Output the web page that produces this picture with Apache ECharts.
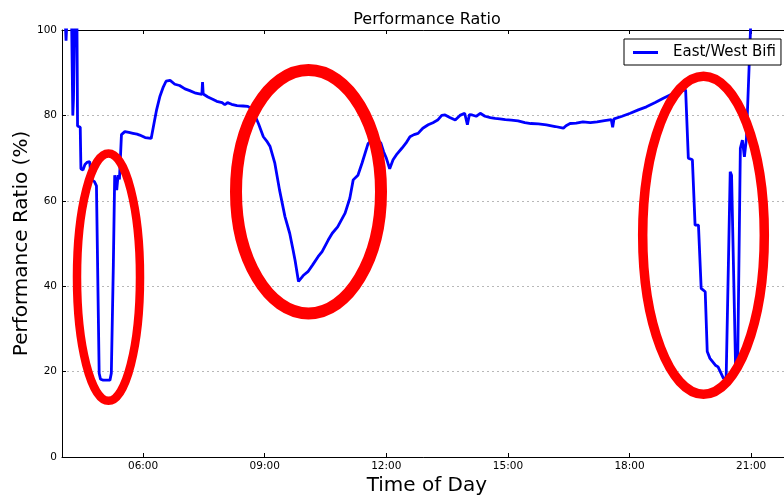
<!DOCTYPE html>
<html>
<head>
<meta charset="utf-8">
<script src="https://cdn.jsdelivr.net/npm/echarts@6/dist/echarts.min.js"></script>
<style>html,body{margin:0;padding:0;background:#fff;overflow:hidden}#c{width:784px;height:499px}</style>
</head>
<body>
<div id="c"></div>
<script>
var titleText = "Performance Ratio";
var xName = "Time of Day";
var yName = "Performance Ratio (%)";
var seriesName = "East/West Bifi";
var xTickHours = [6, 9, 12, 15, 18, 21];
var yTicks = [0, 20, 40, 60, 80, 100];

var times = ["04:04","04:06","04:08","04:14","04:16","04:17","04:19","04:22","04:23","04:27",
"04:28","04:31","04:34","04:37","04:41","04:43","04:48","04:51","04:55","04:57",
"05:01","05:11","05:13","05:16","05:18","05:21","05:23","05:25","05:28","05:33",
"05:39","05:45","05:51","05:55","06:03","06:12","06:16","06:20","06:25","06:30",
"06:34","06:40","06:47","06:54","07:02","07:09","07:18","07:27","07:28","07:29",
"07:36","07:43","07:49","07:57","08:01","08:05","08:11","08:19","08:28","08:35",
"08:41","08:45","08:51","08:58","09:03","09:08","09:15","09:22","09:30","09:37",
"09:42","09:45","09:50","09:57","10:04","10:11","10:19","10:25","10:34","10:40",
"10:48","10:59","11:06","11:11","11:18","11:24","11:33","11:39","11:45","11:52",
"11:56","12:00","12:05","12:10","12:16","12:23","12:29","12:35","12:41","12:47",
"12:54","13:02","13:09","13:16","13:22","13:27","13:34","13:42","13:49","13:56",
"14:00","14:03","14:07","14:13","14:19","14:26","14:34","14:41","14:48","14:56",
"15:05","15:15","15:25","15:34","15:45","15:57","16:10","16:22","16:26","16:32",
"16:41","16:51","17:02","17:12","17:23","17:33","17:35","17:37","17:49","18:01",
"18:13","18:25","18:38","18:50","19:00","19:11","19:20","19:23","19:27","19:33",
"19:37","19:42","19:46","19:52","19:55","19:59","20:07","20:11","20:19","20:23",
"20:29","20:31","20:37","20:40","20:44","20:47","20:50","20:53","20:59","21:02"];

var ratio = [105,97.5,105,105,80,84,105,105,77.5,77.2,
67.5,67.2,68.5,69,69.2,65,64.5,63.5,19.6,18.2,
18,18,19.6,45,66,62.5,66,65,75.5,76.2,
76,75.8,75.6,75.4,74.8,74.6,78,81.3,84.5,86.7,
88,88.2,87.3,87,86.2,85.8,85.2,84.9,87.8,85,
84.3,83.8,83.3,83,82.5,83,82.6,82.3,82.2,82.1,
81.5,80.2,78,75,74,72.7,68.8,62.5,56.3,52.4,
48.5,46,41.1,42.5,43.4,45,46.9,48.1,50.8,52.4,
53.9,57.1,60.6,64.9,66,68.8,73.4,74.2,74.5,73.5,
71.5,70,67.5,69.6,71,72.3,73.5,75,75.5,75.8,
77,77.8,78.3,78.9,80,80.1,79.5,78.9,80,80.5,
77.8,80.2,80.1,79.8,80.5,79.8,79.5,79.3,79.2,79,
78.9,78.7,78.3,78.1,78,77.8,77.4,77,77.6,78.1,
78.2,78.5,78.3,78.5,78.8,79,77.2,79.2,79.8,80.5,
81.3,82,83,84,84.8,85.3,85.9,86,70,69.6,
54.3,54.3,39.5,38.7,24.7,23.1,21.5,21.1,18.4,18.5,
66.8,66,20.8,21.5,72.3,74.2,70.3,74.6,100,110];

function toHours(t){ var p = t.split(":"); return +p[0] + (+p[1]) / 60; }
var data = times.map(function(t, i){ return [toHours(t), ratio[i]]; });
function fmtHour(v){ var h = Math.round(v); return (h < 10 ? "0" : "") + h + ":00"; }

var FONT = "DejaVu Sans";
var chart = echarts.init(document.getElementById("c"), null, {renderer: "canvas"});
var gridLeft = 62, gridTop = 30, gridW = 729.7, gridH = 427;

chart.setOption({
  animation: false,
  backgroundColor: "#fff",
  textStyle: {fontFamily: FONT},
  title: {
    text: titleText, left: 427, top: 12, padding: 0, textAlign: "center",
    textStyle: {fontFamily: FONT, fontSize: 16, fontWeight: "normal", color: "#000"}
  },
  legend: {
    data: [{name: seriesName, icon: "rect"}],
    left: 624, top: 39, padding: [6, 5, 5, 9],
    itemWidth: 25, itemHeight: 3, itemGap: 0,
    borderColor: "#000", borderWidth: 1, backgroundColor: "#fff",
    textStyle: {fontFamily: FONT, fontSize: 15, color: "#000", padding: [0, 0, 0, 10]}
  },
  grid: {left: gridLeft, top: gridTop, width: gridW, height: gridH, containLabel: false, outerBoundsMode: "none"},
  xAxis: [{
    type: "value", min: 4, max: 22,
    name: xName, nameLocation: "middle", nameGap: 19, nameMoveOverlap: false,
    nameTextStyle: {fontFamily: FONT, fontSize: 20, color: "#000"},
    axisLine: {show: true, lineStyle: {color: "#000", width: 1}},
    axisTick: {show: true, inside: true, length: 4, customValues: xTickHours, lineStyle: {color: "#000"}},
    axisLabel: {show: true, customValues: xTickHours, formatter: fmtHour, margin: 4,
      fontFamily: FONT, fontSize: 10.5, color: "#000"},
    splitLine: {show: false}
  }, {
    type: "value", min: 4, max: 22, position: "top",
    axisLine: {show: true, onZero: false, lineStyle: {color: "#000", width: 1}},
    axisTick: {show: true, inside: true, length: 4, customValues: xTickHours, lineStyle: {color: "#000"}},
    axisLabel: {show: false},
    splitLine: {show: false}
  }],
  yAxis: [{
    type: "value", min: 0, max: 100, interval: 20,
    name: yName, nameLocation: "middle", nameGap: 30, nameMoveOverlap: false,
    nameTextStyle: {fontFamily: FONT, fontSize: 20, color: "#000"},
    axisLine: {show: true, lineStyle: {color: "#000", width: 1}},
    axisTick: {show: true, inside: true, length: 4, lineStyle: {color: "#000"}},
    axisLabel: {margin: 5, fontFamily: FONT, fontSize: 10.5, color: "#000"},
    splitLine: {show: true, lineStyle: {color: "#b8b8b8", type: [2, 3], width: 1}}
  }],
  series: [{
    name: seriesName, type: "line", data: data,
    xAxisIndex: 0, yAxisIndex: 0,
    showSymbol: false, symbol: "none", clip: true,
    lineStyle: {color: "#0000ff", width: 2.8},
    itemStyle: {color: "#0000ff"},
    z: 3
  }],
  graphic: [
    {type: "ellipse", z: 100, shape: {cx: 108.5, cy: 277.2, rx: 31.5, ry: 123.6},
      style: {fill: null, stroke: "#ff0000", lineWidth: 8.5}},
    {type: "ellipse", z: 100, shape: {cx: 308.5, cy: 191.7, rx: 72.5, ry: 121.7},
      style: {fill: null, stroke: "#ff0000", lineWidth: 12}},
    {type: "ellipse", z: 100, shape: {cx: 703.5, cy: 235.2, rx: 60.8, ry: 159},
      style: {fill: null, stroke: "#ff0000", lineWidth: 9.5}}
  ]
});
</script>
</body>
</html>
